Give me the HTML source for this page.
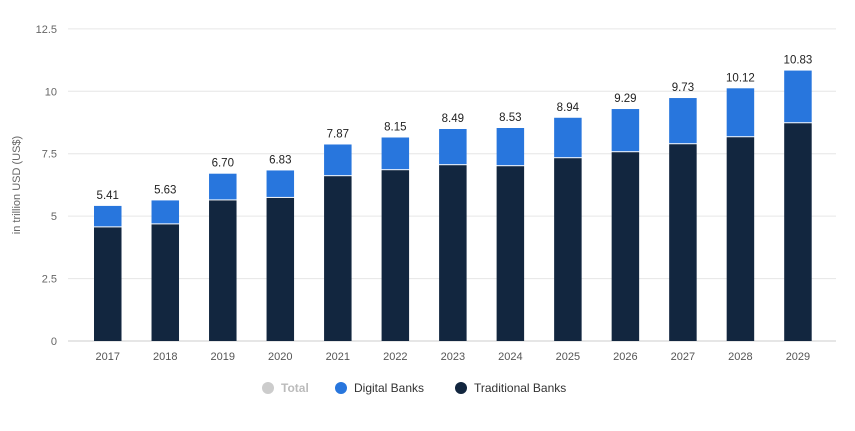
<!DOCTYPE html>
<html><head><meta charset="utf-8"><style>
body{margin:0;background:#fff;font-family:"Liberation Sans",sans-serif;}
svg text{font-family:"Liberation Sans",sans-serif;}
</style></head><body>
<svg id="chart" width="855" height="426" viewBox="0 0 855 426" xmlns="http://www.w3.org/2000/svg">
<g id="grid"></g>
<g id="yticks"></g>
<text transform="translate(20,185) rotate(-90)" text-anchor="middle" font-size="11" fill="#666">in trillion USD (US$)</text>
<g id="bars"></g>
<g id="xticks"></g>
<g>
<g><circle cx="268" cy="388" r="6" fill="#ccc"/><text x="281" y="392" font-size="12" fill="#bbb" font-weight="bold">Total</text></g>
<g><circle cx="341" cy="388" r="6" fill="#2876dd"/><text x="354" y="392" font-size="12" fill="#333">Digital Banks</text></g>
<g><circle cx="461" cy="388" r="6" fill="#12263f"/><text x="474" y="392" font-size="12" fill="#333">Traditional Banks</text></g>
</g>
</svg>
<script>
const years=["2017","2018","2019","2020","2021","2022","2023","2024","2025","2026","2027","2028","2029"];
const traditional=[4.55,4.67,5.63,5.73,6.60,6.84,7.04,7.00,7.32,7.56,7.88,8.16,8.72];
const totals=[5.41,5.63,6.70,6.83,7.87,8.15,8.49,8.53,8.94,9.29,9.73,10.12,10.83];
const totalLabels=["5.41","5.63","6.70","6.83","7.87","8.15","8.49","8.53","8.94","9.29","9.73","10.12","10.83"];
const yTicks=[0,2.5,5,7.5,10,12.5];
const yTickLabels=["0","2.5","5","7.5","10","12.5"];
const NS="http://www.w3.org/2000/svg";
const plotL=79,plotR=826.7,y0=341,pxPer=24.97,barW=27.5;
const band=(plotR-plotL)/years.length;
function y(v){return y0-v*pxPer;}
function xc(i){return plotL+band*(i+0.5);}
function mk(tag,attrs,parent){const e=document.createElementNS(NS,tag);for(const k in attrs)e.setAttribute(k,attrs[k]);parent.appendChild(e);return e;}
const grid=document.getElementById('grid'),yt=document.getElementById('yticks'),bars=document.getElementById('bars'),xt=document.getElementById('xticks');
yTicks.forEach((v,i)=>{
 const l=mk('line',{x1:68,x2:836,y1:y(v),y2:y(v),stroke:v===0?'#ccc':'#e6e6e6','stroke-width':1},grid);
 
 
 const t=mk('text',{x:57,y:y(v)+4,'text-anchor':'end','font-size':11,fill:'#666'},yt);
 t.textContent=yTickLabels[i];
 
 
});
years.forEach((yr,i)=>{
 const cx=xc(i),x=cx-barW/2;
 const tr=traditional[i],dg=totals[i]-traditional[i];
 const b1=mk('rect',{x:x,y:y(tr),width:barW,height:tr*pxPer,fill:'#12263f'},bars);
 
 
 const b2=mk('rect',{x:x,y:y(totals[i]),width:barW,height:dg*pxPer-1,fill:'#2876dd'},bars);
 
 
 const lb=mk('text',{x:cx,y:y(totals[i])-7,'text-anchor':'middle','font-size':11.5,fill:'#222'},bars);
 lb.textContent=totalLabels[i];
 
 
 const xl=mk('text',{x:cx,y:360,'text-anchor':'middle','font-size':11,fill:'#555'},xt);
 xl.textContent=yr;
 
 
});
</script>
</body></html>
